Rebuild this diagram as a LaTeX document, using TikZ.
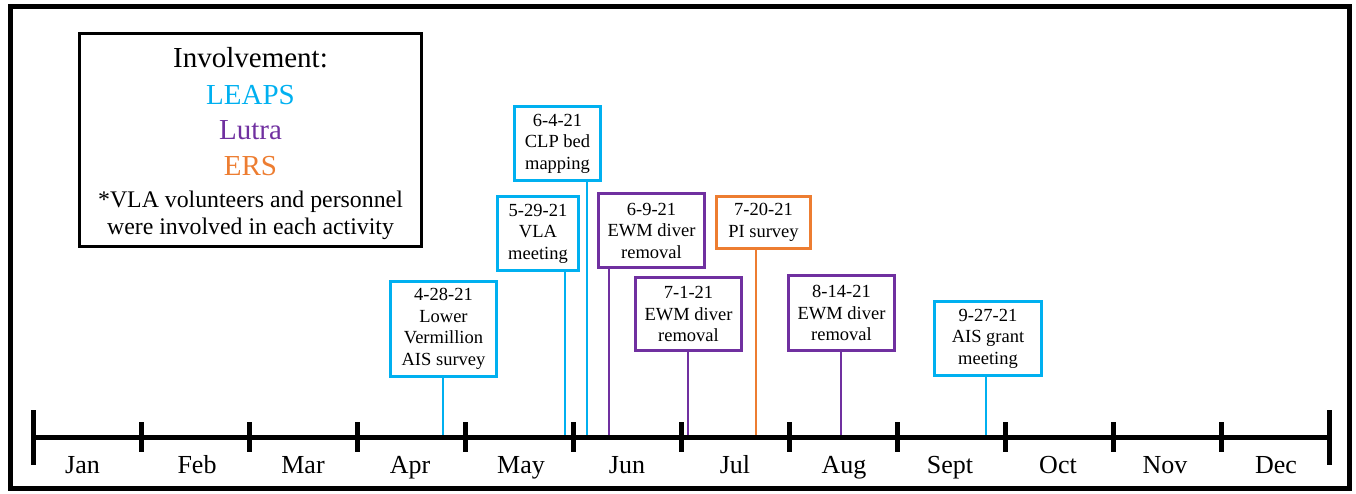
\documentclass[tikz,border=0pt]{standalone}
\usepackage{fontspec}
\setmainfont{LiberationSerif}[Extension=.ttf, UprightFont=*-Regular, BoldFont=*-Bold, ItalicFont=*-Italic, BoldItalicFont=*-BoldItalic]
\definecolor{leaps}{HTML}{00B0F0}
\definecolor{lutra}{HTML}{7030A0}
\definecolor{ers}{HTML}{ED7D31}
\begin{document}
\begin{tikzpicture}[x=1pt,y=-1pt]
\tikzset{
  evbox/.style={draw=#1, line width=3pt, inner sep=0pt, align=center, fill=white,
    font=\rmfamily\fontsize{18.5}{21.5}\selectfont},
  evline/.style={draw=#1, line width=2pt},
  axisline/.style={line width=5pt},
  monthlabel/.style={font=\rmfamily\fontsize{26}{30}\selectfont, anchor=base, inner sep=0pt},
  legbig/.style={font=\rmfamily\fontsize{29}{34}\selectfont, anchor=base, inner sep=0pt},
  legsmall/.style={font=\rmfamily\fontsize{23.8}{27}\selectfont, anchor=base, inner sep=0pt},
}
\useasboundingbox (0,0) rectangle (1356,493);
% outer frame
\draw[line width=5pt] (10.5,6) rectangle (1349.5,488);

% legend
\node[draw, line width=3pt, minimum width=342pt, minimum height=213pt, inner sep=0pt] (legend) at (250.5,140) {};
\node[legbig] (lt) at (250.5,67) {Involvement:};
\node[legbig, text=leaps] (l1) at (250.5,104) {LEAPS};
\node[legbig, text=lutra] (l2) at (250.5,139) {Lutra};
\node[legbig, text=ers] (l3) at (250.5,175) {ERS};
\node[legsmall] (l4) at (250.5,207) {*VLA volunteers and personnel};
\node[legsmall] (l5) at (250.5,234) {were involved in each activity};

% axis coordinates
\foreach \i in {0,...,12} {
  \coordinate (t\i) at ({33+\i*108.08},437);
}
% event anchor points on axis
\coordinate (d1) at (443,437);
\coordinate (d2) at (565,437);
\coordinate (d3) at (587,437);
\coordinate (d4) at (609,437);
\coordinate (d5) at (756,437);
\coordinate (d6) at (688,437);
\coordinate (d7) at (841,437);
\coordinate (d8) at (986,437);

% event boxes
\node[evbox=leaps, minimum width=106pt, minimum height=95pt] (e1) at (443.5,329) {4-28-21\\Lower\\Vermillion\\AIS survey};
\node[evbox=leaps, minimum width=81pt, minimum height=74pt] (e2) at (538,233.5) {5-29-21\\VLA\\meeting};
\node[evbox=leaps, minimum width=86pt, minimum height=74pt] (e3) at (557.5,143.5) {6-4-21\\CLP bed\\mapping};
\node[evbox=lutra, minimum width=106pt, minimum height=74pt] (e4) at (651.5,230.5) {6-9-21\\EWM diver\\removal};
\node[evbox=ers, minimum width=94pt, minimum height=52pt] (e5) at (763.5,222.5) {7-20-21\\PI survey};
\node[evbox=lutra, minimum width=106pt, minimum height=73pt] (e6) at (688.5,314) {7-1-21\\EWM diver\\removal};
\node[evbox=lutra, minimum width=106pt, minimum height=75pt] (e7) at (841.5,313) {8-14-21\\EWM diver\\removal};
\node[evbox=leaps, minimum width=107pt, minimum height=74pt] (e8) at (988,338.5) {9-27-21\\AIS grant\\meeting};

% connectors
\draw[evline=leaps] (e1.south -| d1) -- (d1);
\draw[evline=leaps] (e2.south -| d2) -- (d2);
\draw[evline=leaps] (e3.south -| d3) -- (d3);
\draw[evline=lutra] (e4.south -| d4) -- (d4);
\draw[evline=ers]   (e5.south -| d5) -- (d5);
\draw[evline=lutra] (e6.south -| d6) -- (d6);
\draw[evline=lutra] (e7.south -| d7) -- (d7);
\draw[evline=leaps] (e8.south -| d8) -- (d8);

% axis
\draw[axisline] (t0) -- (t12);
\draw[axisline] (t0) ++(0,-27) -- ++(0,55);
\draw[axisline] (t12) ++(0,-27) -- ++(0,55);
\foreach \i in {1,...,11} {
  \draw[axisline] (t\i) ++(0,-15) -- ++(0,30);
}

% month labels
\foreach \m/\x [count=\i] in {Jan/82.5,Feb/197,Mar/303,Apr/410,May/521,Jun/627,Jul/735,Aug/844,Sept/950,Oct/1058,Nov/1165,Dec/1276} {
  \node[monthlabel] (m\i) at (\x,473) {\m};
}
\end{tikzpicture}
\end{document}
